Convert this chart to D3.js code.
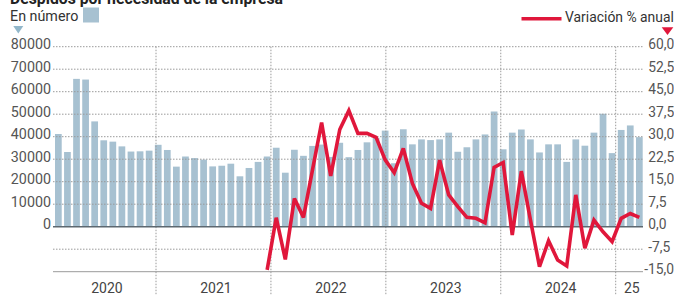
<!DOCTYPE html>
<html><head><meta charset="utf-8">
<script src="https://cdn.jsdelivr.net/npm/d3@7"></script>
<style>body{margin:0;background:#fff}svg{display:block}</style>
</head><body>
<svg id="chart" width="674" height="295"></svg>
<script>
// ---- DATA ----
const months = [
 "2020-01","2020-02","2020-03","2020-04","2020-05","2020-06","2020-07","2020-08","2020-09","2020-10","2020-11","2020-12",
 "2021-01","2021-02","2021-03","2021-04","2021-05","2021-06","2021-07","2021-08","2021-09","2021-10","2021-11","2021-12",
 "2022-01","2022-02","2022-03","2022-04","2022-05","2022-06","2022-07","2022-08","2022-09","2022-10","2022-11","2022-12",
 "2023-01","2023-02","2023-03","2023-04","2023-05","2023-06","2023-07","2023-08","2023-09","2023-10","2023-11","2023-12",
 "2024-01","2024-02","2024-03","2024-04","2024-05","2024-06","2024-07","2024-08","2024-09","2024-10","2024-11","2024-12",
 "2025-01","2025-02","2025-03","2025-04","2025-05"];
const despidos = [
 41200,33200,65700,65400,46800,38400,37800,35700,33400,33500,33800,36400,
 34100,26700,31200,30500,29800,26800,27100,28000,22400,26100,28800,31200,
 35100,24000,34200,31500,35900,36500,31000,37300,30900,34100,37500,39500,
 42700,28200,43300,36600,38800,38500,38800,41800,33300,35300,38800,41000,
 51200,34400,41800,43200,38800,33000,36600,36600,28800,38800,36000,41800,
 50200,32700,43000,45000,39800];
const variacion = [
 null,null,null,null,null,null,null,null,null,null,null,null,
 null,null,null,null,null,null,null,null,null,null,null,-14.4,
 3.0,-10.9,9.4,3.1,19.0,34.7,16.9,32.4,38.7,31.1,31.1,29.8,
 22.3,18.0,26.1,14.4,7.8,6.1,22.2,10.6,6.7,3.1,2.8,1.3,
 19.8,21.4,-2.8,18.5,2.3,-13.3,-4.7,-11.1,-13.1,10.6,-7.2,2.2,
 -1.7,-5.0,2.8,4.4,3.1];
const leftTicks = [0,10000,20000,30000,40000,50000,60000,70000,80000];
const rightTicks = [-15,-7.5,0,7.5,15,22.5,30,37.5,45,52.5,60];
const yearDividers = [2021,2022,2023,2024,2025];
const yearLabels = ["2020","2021","2022","2023","2024","25"];
const title = "Despidos por necesidad de la empresa";
const legendBars = "En número";
const legendLine = "Variación % anual";

// ---- LAYOUT ----
const svg = d3.select("#chart");
const L = 53, R = 643, T = 46.7, Z = 226.7, B = 271.7;
const barColor = "#a7c1d1", red = "#e0173b", grid = "#9a9a9a";
const font = "Roboto, 'Open Sans', sans-serif";

const x = d3.scaleBand().domain(months).range([L, 644.7]).paddingInner(0.26).paddingOuter(0.22);
const yL = d3.scaleLinear().domain([-20000, 80000]).range([B, T]);
const yR = d3.scaleLinear().domain([-15, 60]).range([B, T]);
const yearX = d3.scaleLinear().domain([2021, 2025]).range([156, 615.7]);

// bars
svg.append("g").selectAll("rect").data(despidos).join("rect")
  .attr("x", (d,i) => x(months[i])).attr("width", x.bandwidth())
  .attr("y", d => yL(d)).attr("height", d => yL(0) - yL(d))
  .attr("fill", barColor);

// horizontal gridlines (dotted)
svg.append("g").selectAll("line").data(rightTicks.filter(d => d !== 0 && d !== -15)).join("line")
  .attr("x1", L).attr("x2", R).attr("y1", d => yR(d)).attr("y2", d => yR(d))
  .attr("stroke", grid).attr("stroke-width", 1).attr("stroke-dasharray", "1.5,1.5");
// vertical year dividers
svg.append("g").selectAll("line").data(yearDividers).join("line")
  .attr("x1", d => yearX(d)).attr("x2", d => yearX(d)).attr("y1", T).attr("y2", 295)
  .attr("stroke", grid).attr("stroke-width", 1).attr("stroke-dasharray", "1.5,1.5");
// bottom line
svg.append("line").attr("x1", L).attr("x2", R).attr("y1", yR(-15)).attr("y2", yR(-15))
  .attr("stroke", "#9a9a9a").attr("stroke-width", 1);
// zero line
svg.append("line").attr("x1", L).attr("x2", R).attr("y1", yR(0)).attr("y2", yR(0))
  .attr("stroke", "#5d6870").attr("stroke-width", 1.6);

// line
const line = d3.line().defined(d => d != null)
  .x((d,i) => x(months[i]) + x.bandwidth()/2).y(d => yR(d));
svg.append("path").datum(variacion).attr("d", line)
  .attr("fill", "none").attr("stroke", red).attr("stroke-width", 3.6)
  .attr("stroke-linejoin", "miter").attr("stroke-miterlimit", 3);

// left axis
const axL = svg.append("g").attr("transform", `translate(${L},0)`)
  .call(d3.axisLeft(yL).tickValues(leftTicks).tickSize(0).tickPadding(2).tickFormat(d3.format("d")));
axL.select(".domain").remove();
axL.selectAll("text").attr("font-family", font).attr("font-size", 14.3).attr("fill", "#555").attr("dy", "0.15em");

// right axis
const fmtR = d => d3.format(".1f")(d).replace("−", "-").replace(".", ",");
const axR = svg.append("g").attr("transform", `translate(${R},0)`)
  .call(d3.axisRight(yR).tickValues(rightTicks).tickSize(0).tickPadding(5).tickFormat(fmtR));
axR.select(".domain").remove();
axR.selectAll("text").attr("font-family", font).attr("font-size", 13.8).attr("fill", "#555").attr("dy", "0.15em")
  .attr("x", d => d < -10 ? 1.3 : 5.3);

// year labels
const bounds = [L, ...yearDividers.map(d => yearX(d)), R];
svg.append("g").selectAll("text").data(yearLabels).join("text")
  .attr("x", (d,i) => (bounds[i] + bounds[i+1]) / 2 + 2.5).attr("y", 292.5)
  .attr("text-anchor", "middle").attr("font-family", font).attr("font-size", 14).attr("fill", "#444")
  .text(d => d);

// title (cut at top, as in the reference)
svg.append("text").attr("x", 10).attr("y", 3.5).attr("font-family", font).attr("font-weight", 700)
  .attr("font-size", 16).attr("fill", "#222").attr("textLength", 273).attr("lengthAdjust", "spacingAndGlyphs")
  .text(title);

// legend bars
svg.append("text").attr("x", 10).attr("y", 20.7).attr("font-family", font).attr("font-size", 14.3)
  .attr("fill", "#333").text(legendBars);
svg.append("rect").attr("x", 83).attr("y", 7.5).attr("width", 16).attr("height", 15).attr("fill", barColor);
svg.append("path").attr("d", "M13.3,26 L23.3,26 L18.3,33.5 Z").attr("fill", "#92b7ca");

// legend line
svg.append("line").attr("x1", 521.5).attr("x2", 561.5).attr("y1", 18.8).attr("y2", 18.8)
  .attr("stroke", red).attr("stroke-width", 3.6);
svg.append("text").attr("x", 565).attr("y", 22).attr("font-family", font).attr("font-size", 13.9)
  .attr("fill", "#333").text(legendLine);
svg.append("path").attr("d", "M661.7,27.3 L673.3,27.3 L667.5,35 Z").attr("fill", red);
</script>
</body></html>
